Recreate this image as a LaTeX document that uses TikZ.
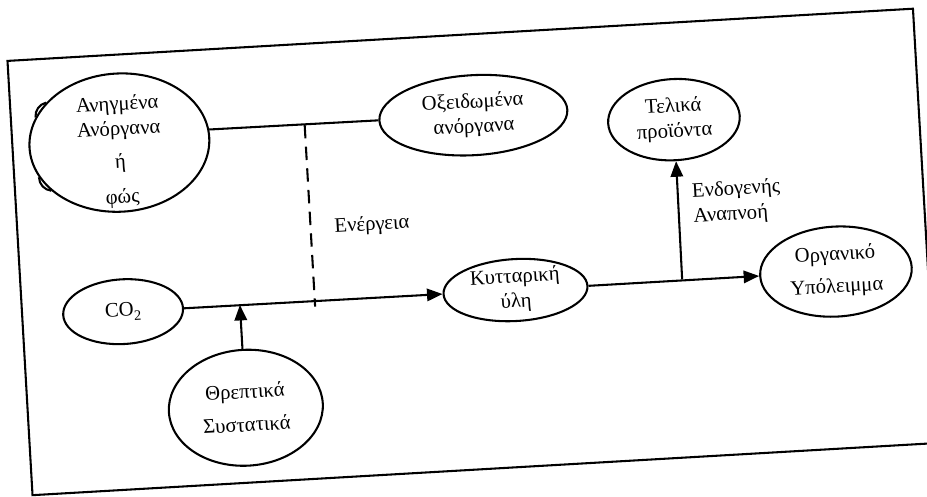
\documentclass[tikz,border=0pt]{standalone}
\usepackage{fontspec}
\setmainfont{Liberation Serif}
\usepackage{xcolor}
\usetikzlibrary{arrows.meta,shapes.geometric}

\begin{document}
\begin{tikzpicture}[x=0.017cm, y=0.017cm, line width=1pt,
    blob/.style={ellipse, draw, inner sep=0pt, align=center, font=\fontsize{10}{12}\selectfont},
    lbl/.style={anchor=west, align=left, inner sep=0pt, font=\fontsize{10}{12}\selectfont},
    arr/.style={-{Triangle[length=7.5pt,width=6pt]}}]
  \useasboundingbox (-463,-248) rectangle (464,248);
  \begin{scope}[rotate=3.3, transform shape]
    \draw (-444,-222) rectangle (463,213);

    \node[blob, minimum width=3.06cm, minimum height=2.35cm, inner ysep=-9pt] (cloud) at (-337,125) {\rule{0pt}{16pt}Ανηγμένα\\Ανόργανα\\[4pt]ή\\[5pt]φώς};
    \draw (cloud.148) to[bend right=40] (cloud.160);
    \draw (cloud.200) to[bend right=40] (cloud.212);
    \node[blob, minimum width=3.2cm, minimum height=1.36cm] (oxeid) at (18,132) {Οξειδωμένα\\ανόργανα};
    \node[blob, minimum width=2.24cm, minimum height=1.38cm] (telika) at (218,116) {Τελικά\\προϊόντα};
    \node[blob, minimum width=2.04cm, minimum height=1.1cm] (co2) at (-343,-44) {CO\raisebox{-0.45ex}{\fontsize{7}{8}\selectfont 2}};
    \node[blob, minimum width=2.45cm, minimum height=0.97cm] (kytt) at (50,-45) {Κυτταρική\\ύλη};
    \node[blob, minimum width=2.58cm, minimum height=1.53cm] (organ) at (371,-45) {Οργανικό\\[3.5pt]Υπόλειμμα};
    \node[blob, minimum width=2.62cm, minimum height=1.97cm] (threp) at (-226,-147) {Θρεπτικά\\[4pt]Συστατικά};

    \node[lbl] (energ) at (-128,28) {Ενέργεια};
    \node[lbl] (endog) at (231,30) {Ενδογενής\\Αναπνοή};

    \coordinate (etop) at (-151,132);
    \coordinate (ebot) at (-151,-50);
    \coordinate (nut) at (-226,-44);
    \coordinate (resp) at (217,-44);

    \draw (cloud.5) -- (oxeid);
    \draw[dash pattern=on 6.5pt off 4pt] (etop) -- (ebot);
    \draw[arr] (co2) -- (kytt);
    \draw[arr] (kytt) -- (organ);
    \draw[arr] (threp) -- (nut);
    \draw[arr] (resp) -- (telika);
  \end{scope}
\end{tikzpicture}
\end{document}
